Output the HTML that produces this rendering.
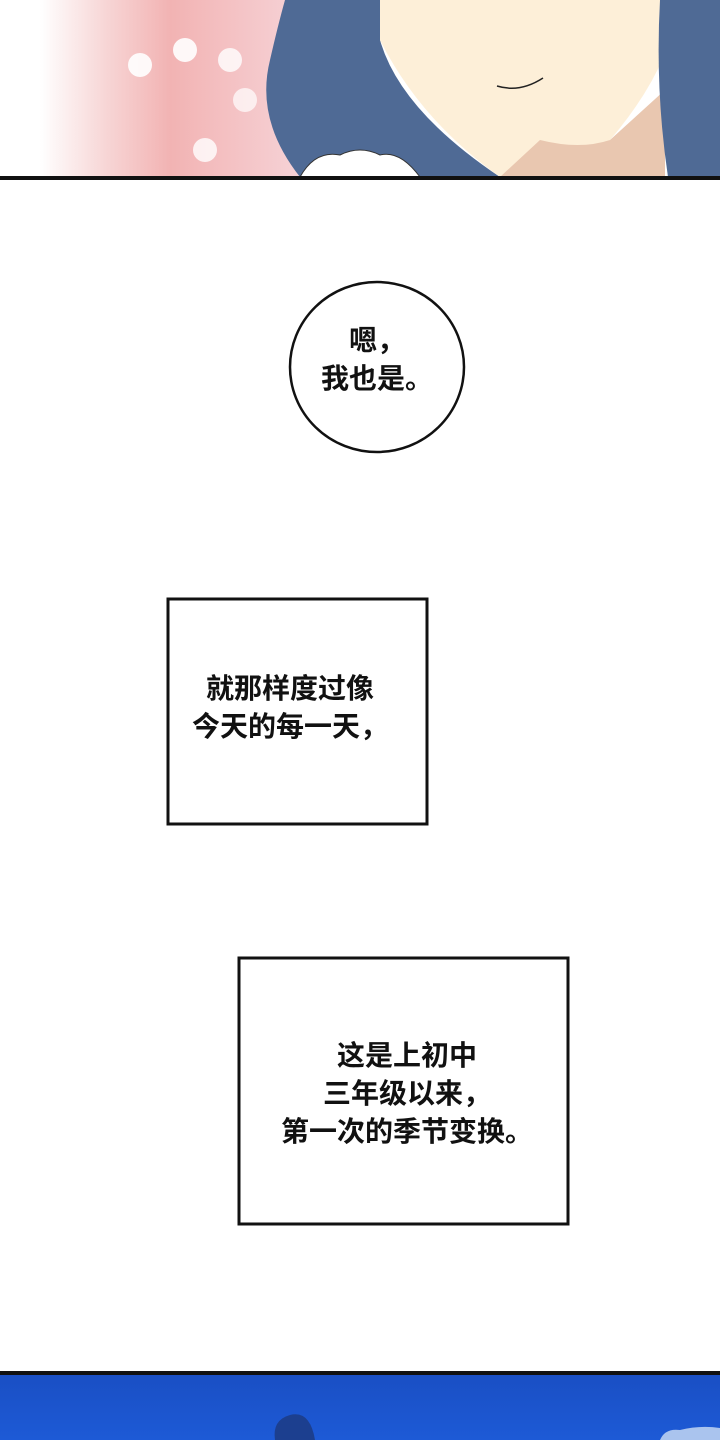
<!DOCTYPE html>
<html><head><meta charset="utf-8"><style>
body{margin:0;width:720px;height:1440px;background:#fff;overflow:hidden;position:relative;font-family:"Liberation Sans","Noto Sans CJK SC",sans-serif;}
.t{position:absolute;font-size:28px;font-weight:bold;color:#111;text-align:center;line-height:38px;white-space:nowrap}
</style></head><body>
<svg width="720" height="1440" style="position:absolute;left:0;top:0">
<defs>
<linearGradient id="pk" x1="0" x2="1" y1="0" y2="0">
<stop offset="0" stop-color="#fff"/><stop offset="0.25" stop-color="#f7d6d6"/><stop offset="0.5" stop-color="#f2b3b3"/><stop offset="1" stop-color="#f6d2d6"/></linearGradient>
<linearGradient id="sky" x1="0" x2="0" y1="0" y2="1"><stop offset="0" stop-color="#1a4fc4"/><stop offset="1" stop-color="#1d5ad6"/></linearGradient>
</defs>
<rect x="0" y="0" width="720" height="177" fill="#fff"/>
<rect x="40" y="0" width="260" height="177" fill="url(#pk)"/>
<circle cx="140" cy="65" r="12" fill="#fff" opacity=".9"/><circle cx="185" cy="50" r="12" fill="#fff" opacity=".9"/><circle cx="230" cy="60" r="12" fill="#fff" opacity=".8"/><circle cx="205" cy="150" r="12" fill="#fff" opacity=".8"/><circle cx="245" cy="100" r="12" fill="#fff" opacity=".7"/>
<path d="M285 0 L380 0 L380 40 Q400 110 500 177 L300 177 Q255 120 270 60 Q278 25 285 0Z" fill="#4f6a95"/>
<path d="M380 0 L680 0 Q670 70 610 140 L540 177 L500 177 Q420 120 380 40Z" fill="#fdefd8"/>
<path d="M500 177 L540 140 Q580 150 610 140 L665 90 L665 177Z" fill="#e9c7b0"/>
<path d="M660 0 L720 0 L720 177 L668 177 Q655 90 660 0Z" fill="#4f6a95"/>
<path d="M497 86 Q520 93 543 78" stroke="#222" stroke-width="1.5" fill="none"/>
<path d="M300 177 Q315 150 340 155 Q360 145 380 155 Q400 150 420 177Z" fill="#fff" stroke="#333" stroke-width="1"/>
<rect x="0" y="176" width="720" height="4" fill="#111"/>
<ellipse cx="377" cy="367" rx="87" ry="85" fill="#fff" stroke="#111" stroke-width="2.5"/>
<rect x="168" y="599" width="259" height="225" fill="#fff" stroke="#111" stroke-width="3"/>
<rect x="239" y="958" width="329" height="266" fill="#fff" stroke="#111" stroke-width="3"/>
<rect x="0" y="1371" width="720" height="4" fill="#111"/>
<rect x="0" y="1375" width="720" height="65" fill="url(#sky)"/>
<path d="M275 1440 Q272 1420 290 1415 Q310 1410 315 1440Z" fill="#1c3f8f"/>
<path d="M660 1440 Q665 1428 680 1430 Q700 1425 720 1428 L720 1440Z" fill="#aac4ee"/>
</svg>
<div class="t" style="left:277px;top:322px;width:200px">嗯，<br>我也是。</div>
<div class="t" style="left:160px;top:670px;width:260px">就那样度过像<br>今天的每一天，</div>
<div class="t" style="left:242px;top:1037px;width:330px">这是上初中<br>三年级以来，<br>第一次的季节变换。</div>
</body></html>
